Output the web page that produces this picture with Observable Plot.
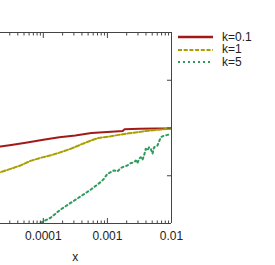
<!DOCTYPE html>
<html><head><meta charset="utf-8">
<script src="https://cdn.jsdelivr.net/npm/d3@7"></script>
<script src="https://cdn.jsdelivr.net/npm/@observablehq/plot@0.6"></script>
<style>
html,body{margin:0;padding:0;background:#fff;}
#wrap{position:relative;width:275px;height:265px;font-family:"Liberation Sans",Arial,sans-serif;}
#legend{position:absolute;left:178px;top:30.6px;font-size:12px;color:#222;line-height:12.7px;}
.row{display:flex;align-items:center;height:12.7px;white-space:nowrap;}
.row svg{margin-right:9px;display:block;}
</style></head><body><div id="wrap"></div>
<script>
const seriesNames = ["k=0.1", "k=1", "k=5"];
const seriesColors = ["#a01a1a", "#a9a000", "#2e9b5a"];
const seriesDash = [null, "4,2", "2,3"];

const redX = [1e-5, 2.15e-5, 3.16e-5, 5.62e-5, 1e-4, 1.78e-4, 3.16e-4, 5.62e-4, 1e-3, 1.73e-3, 1.86e-3, 3.16e-3, 5.62e-3, 1e-2];
const redY = [0.385, 0.403, 0.411, 0.424, 0.438, 0.451, 0.461, 0.474, 0.479, 0.484, 0.494, 0.496, 0.497, 0.498];

const oliveX = [1e-5, 2.15e-5, 3.08e-5, 4.42e-5, 6.34e-5, 9.08e-5, 1.30e-4, 1.86e-4, 2.67e-4, 3.83e-4, 5.48e-4, 7.31e-4, 1.05e-3, 1.50e-3, 2.15e-3, 3.08e-3, 4.42e-3, 6.34e-3, 9.08e-3, 1e-2];
const oliveY = [0.229, 0.269, 0.286, 0.304, 0.328, 0.344, 0.357, 0.373, 0.391, 0.413, 0.434, 0.448, 0.455, 0.464, 0.472, 0.479, 0.486, 0.491, 0.496, 0.498];

const greenX = [4.42e-5, 6.34e-5, 9.08e-5, 1.30e-4, 1.86e-4, 2.67e-4, 3.83e-4, 5.48e-4, 7.85e-4, 8.85e-4, 1e-3, 1.13e-3, 1.27e-3, 1.43e-3, 1.61e-3, 1.82e-3, 2.05e-3, 2.31e-3, 2.61e-3, 2.77e-3, 2.94e-3, 3.12e-3, 3.31e-3, 3.52e-3, 3.73e-3, 3.97e-3, 4.22e-3, 4.47e-3, 4.75e-3, 5.05e-3, 5.35e-3, 6.04e-3, 6.81e-3, 7.66e-3, 8.65e-3, 9.75e-3];
const greenY = [-0.073, -0.031, 0.004, 0.030, 0.073, 0.108, 0.142, 0.177, 0.217, 0.234, 0.260, 0.269, 0.278, 0.272, 0.290, 0.298, 0.304, 0.316, 0.321, 0.330, 0.316, 0.339, 0.347, 0.333, 0.356, 0.391, 0.382, 0.399, 0.391, 0.365, 0.399, 0.408, 0.452, 0.460, 0.464, 0.469];

const xMajorTicks = [1e-5, 1e-4, 1e-3, 1e-2];
const xMinorMultipliers = [2, 3, 4, 5, 6, 7, 8, 9];
const xLabelTicks = [1e-4, 1e-3, 1e-2];
const xTickLabels = ["0.0001", "0.001", "0.01"];
const yTicks = [0.25, 0.5, 0.75];
const xLabel = "x";

const xMinorTicks = xMajorTicks.slice(0, -1).flatMap(d => xMinorMultipliers.map(m => m * d));
const seriesXs = [redX, oliveX, greenX];
const seriesYs = [redY, oliveY, greenY];
const tidy = seriesNames.map((name, i) => seriesXs[i].map((x, j) => ({name, x, y: seriesYs[i][j]})));

const frameColor = "#444";
const lineMarks = tidy.map((data, i) => Plot.line(data, {
  x: "x", y: "y", stroke: seriesColors[i], strokeWidth: 2,
  strokeDasharray: seriesDash[i] || undefined, clip: true, curve: "linear"
}));

const plot = Plot.plot({
  width: 275, height: 265,
  marginLeft: -21.3, marginRight: 104, marginTop: 32, marginBottom: 42,
  style: {fontFamily: "'Liberation Sans', Arial, sans-serif", fontSize: "12px", color: "#222", background: "transparent"},
  x: {type: "log", domain: [1e-5, 1e-2]},
  y: {domain: [0, 1]},
  marks: [
    ...lineMarks,
    Plot.ruleY([0, 1], {stroke: frameColor}),
    Plot.ruleX([1e-2], {stroke: frameColor}),
    Plot.axisX({anchor: "bottom", ticks: xMajorTicks, tickSize: -5, fill: "none", label: null, stroke: frameColor}),
    Plot.axisX({anchor: "bottom", ticks: xMinorTicks, tickSize: -2.5, fill: "none", label: null, stroke: frameColor}),
    Plot.axisX({anchor: "top", ticks: xMajorTicks, tickSize: -5, fill: "none", label: null, stroke: frameColor}),
    Plot.axisX({anchor: "top", ticks: xMinorTicks, tickSize: -2.5, fill: "none", label: null, stroke: frameColor}),
    Plot.axisX({anchor: "bottom", ticks: xLabelTicks, tickSize: 0, tickPadding: 7.5, label: null,
      tickFormat: d => xTickLabels[xLabelTicks.indexOf(d)], fill: "#222"}),
    Plot.axisY({anchor: "right", ticks: yTicks, tickSize: -5, fill: "none", label: null, stroke: frameColor}),
    Plot.text([xLabel], {text: d => d, frameAnchor: "bottom", dy: 34, lineAnchor: "middle", fill: "#222"})
  ]
});

const wrap = document.getElementById("wrap");
wrap.appendChild(plot);

const legend = document.createElement("div");
legend.id = "legend";
seriesNames.forEach((name, i) => {
  const row = document.createElement("div");
  row.className = "row";
  const dash = seriesDash[i] ? ` stroke-dasharray="${i === 1 ? "4,1.7" : "2,3"}"` : "";
  row.innerHTML = `<svg width="35" height="4"><line x1="0" x2="35" y1="2" y2="2" stroke="${seriesColors[i]}" stroke-width="${i === 0 ? 2.5 : 2}"${dash}/></svg><span>${name}</span>`;
  legend.appendChild(row);
});
wrap.appendChild(legend);
</script>
</body></html>
